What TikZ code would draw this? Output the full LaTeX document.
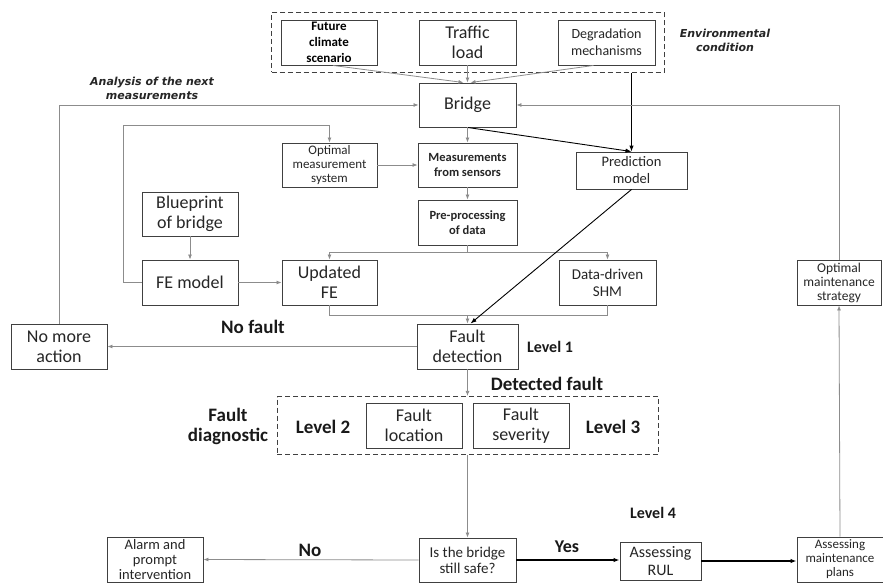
\documentclass[tikz,border=0pt]{standalone}
\usepackage{fontspec}
\setmainfont{Carlito}
\newfontfamily\notefont{DejaVu Sans}
\usetikzlibrary{shadows,fit,arrows.meta}
\newcommand{\pxfont}[2]{\fontsize{#1}{#2}\selectfont}

\begin{document}
\begin{tikzpicture}[x=1pt,y=-1pt,
  box/.style={draw=black!75, line width=0.9pt, fill=white, align=center, inner sep=0pt, text=black!85,
    drop shadow={shadow xshift=1.3pt,shadow yshift=-1.3pt,opacity=0.3}},
  dashbox/.style={draw=black!75, line width=1.3pt, dash pattern=on 5pt off 3pt},
  conn/.style={draw=black!45, line width=0.8pt, -{Latex[length=5pt,width=4pt]}},
  bconn/.style={draw=black, line width=0.9pt, -{Latex[length=6pt,width=4.5pt]}},
  lbl/.style={font=\bfseries\pxfont{19}{20}, text=black!90, align=center},
  note/.style={font=\notefont\bfseries\itshape\pxfont{11}{14}, text=black!85, align=center}]
\useasboundingbox (0,0) rectangle (883,583);

% environmental condition
\node (clim) at (329,42.5) [box, minimum width=96pt, minimum height=45pt, text=black, font=\bfseries\pxfont{13}{16}] {Future\\climate\\scenario};
\node (traf) at (467.5,42.5) [box, minimum width=97pt, minimum height=45pt, font=\pxfont{18}{20}] {Traffic\\load};
\node (degr) at (606.5,42.5) [box, minimum width=97pt, minimum height=45pt, font=\pxfont{14}{17}] {Degradation\\mechanisms};
\node (env) [dashbox, inner xsep=9pt, inner ysep=7pt, fit=(clim)(traf)(degr)] {};
\node (envlbl) at (725,40) [note] {Environmental\\condition};

% bridge and measurements
\node (bridge) at (467.5,105) [box, minimum width=97pt, minimum height=44pt, font=\pxfont{18}{20}] {Bridge};
\node (anlbl) at (152,88) [note] {Analysis of the next\\measurements};
\node (oms) at (329.5,165) [box, minimum width=95pt, minimum height=44pt, font=\pxfont{13}{14}] {Optimal\\measurement\\system};
\node (mfs) at (467.5,165) [box, minimum width=99pt, minimum height=44pt, font=\bfseries\pxfont{12.5}{15}] {Measurements\\from sensors};
\node (pred) at (631.5,170.5) [box, minimum width=111pt, minimum height=37pt, font=\pxfont{14.5}{17}] {Prediction\\model};
\node (pre) at (467.5,222.5) [box, minimum width=99pt, minimum height=45pt, font=\bfseries\pxfont{12.5}{15}] {Pre-processing\\of data};

% models
\node (blue) at (190,214) [box, minimum width=96pt, minimum height=44pt, font=\pxfont{18}{20}] {Blueprint\\of bridge};
\node (fem) at (190,282.5) [box, minimum width=96pt, minimum height=45pt, font=\pxfont{18}{20}] {FE model};
\node (ufe) at (329.5,282.5) [box, minimum width=95pt, minimum height=45pt, font=\pxfont{18}{20}] {Updated\\FE};
\node (dds) at (607.5,282.5) [box, minimum width=97pt, minimum height=45pt, font=\pxfont{15}{17}] {Data-driven\\SHM};
\node (oms2) at (839,282.5) [box, minimum width=84pt, minimum height=45pt, font=\pxfont{13.5}{14}] {Optimal\\maintenance\\strategy};

% fault detection and diagnostic
\node (fdet) at (467.5,346.5) [box, minimum width=101pt, minimum height=45pt, font=\pxfont{18}{20}] {Fault\\detection};
\node (nma) at (59,346.5) [box, minimum width=96pt, minimum height=45pt, font=\pxfont{18}{20}] {No more\\action};
\node (nflbl) at (253,327) [lbl] {No fault};
\node (l1lbl) at (550,347) [lbl, font=\bfseries\pxfont{16}{18}] {Level 1};
\node (dflbl) at (547,384) [lbl] {Detected fault};
\node (floc) at (414,425.5) [box, minimum width=96pt, minimum height=45pt, font=\pxfont{18}{20}] {Fault\\location};
\node (fsev) at (521,425.5) [box, minimum width=96pt, minimum height=45pt, font=\pxfont{18}{20}] {Fault\\severity};
\node (l2lbl) at (323,427) [lbl] {Level 2};
\node (l3lbl) at (613,427) [lbl] {Level 3};
\node (diag) [dashbox, inner xsep=15pt, inner ysep=6pt, fit=(l2lbl)(floc)(fsev)(l3lbl)] {};
\node (fdlbl) at (228,426) [lbl] {Fault\\diagnostic};

% prognosis
\node (safe) at (467.5,560) [box, minimum width=97pt, minimum height=44pt, font=\pxfont{15}{16}] {Is the bridge\\still safe?};
\node (alarm) at (155,559.5) [box, minimum width=96pt, minimum height=45pt, font=\pxfont{14.5}{15}] {Alarm and\\prompt\\intervention};
\node (rul) at (660.5,561) [box, minimum width=81pt, minimum height=38pt, font=\pxfont{16}{18}] {Assessing\\RUL};
\node (amp) at (840,559.5) [box, minimum width=86pt, minimum height=45pt, font=\pxfont{13}{14}] {Assessing\\maintenance\\plans};
\node (l4lbl) at (653,513) [lbl, font=\bfseries\pxfont{16}{18}] {Level 4};
\node (nolbl) at (310,550) [lbl] {No};
\node (yeslbl) at (567,547) [lbl, font=\bfseries\pxfont{18}{20}] {Yes};

% loop corners
\coordinate (lpa) at (123,125);
\coordinate (split) at (467.5,252);
\coordinate (merge) at (467.5,315);

% connectors
\draw[conn] ([xshift=4pt]clim.south) -- ([xshift=-4pt]bridge.north);
\draw[conn] (traf.south) -- (bridge.north);
\draw[conn] ([xshift=-13pt]degr.south) -- ([xshift=3pt]bridge.north);
\draw[bconn] (pred.north |- env.south) -- (pred.north);
\draw[bconn] (bridge.south) -- (pred.north);
\draw[conn] (bridge.south) -- (mfs.north);
\draw[conn] (oms.east) -- (mfs.west);
\draw[conn] (mfs.south) -- (pre.north);
\draw[conn] (pre.south) -- (split) -| (ufe.north);
\draw[conn] (split) -| (dds.north);
\draw[conn] (blue.south) -- (fem.north);
\draw[conn] (fem.east) -- (ufe.west);
\draw[conn] (fem.west) -| (lpa) -| (oms.north);
\draw[draw=black!45, line width=0.8pt] (ufe.south) |- (merge);
\draw[draw=black!45, line width=0.8pt] (dds.south) |- (merge);
\draw[conn] (merge) -- (fdet.north);
\draw[bconn] (pred.south) -- ([xshift=3pt]fdet.north);
\draw[conn] (fdet.west) -- (nma.east);
\draw[conn] (nma.north) |- (bridge.west);
\draw[conn] (fdet.south) -- (fdet.south |- diag.north);
\draw[conn] (safe.north |- diag.south) -- (safe.north);
\draw[conn] (safe.west) -- (alarm.east);
\draw[bconn, line width=1.2pt] (safe.east) -- (safe.east -| rul.west);
\draw[bconn, line width=1.2pt] (rul.east) -- (rul.east -| amp.west);
\draw[conn] (amp.north) -- (oms2.south);
\draw[conn] (oms2.north) |- (bridge.east);
\end{tikzpicture}
\end{document}
